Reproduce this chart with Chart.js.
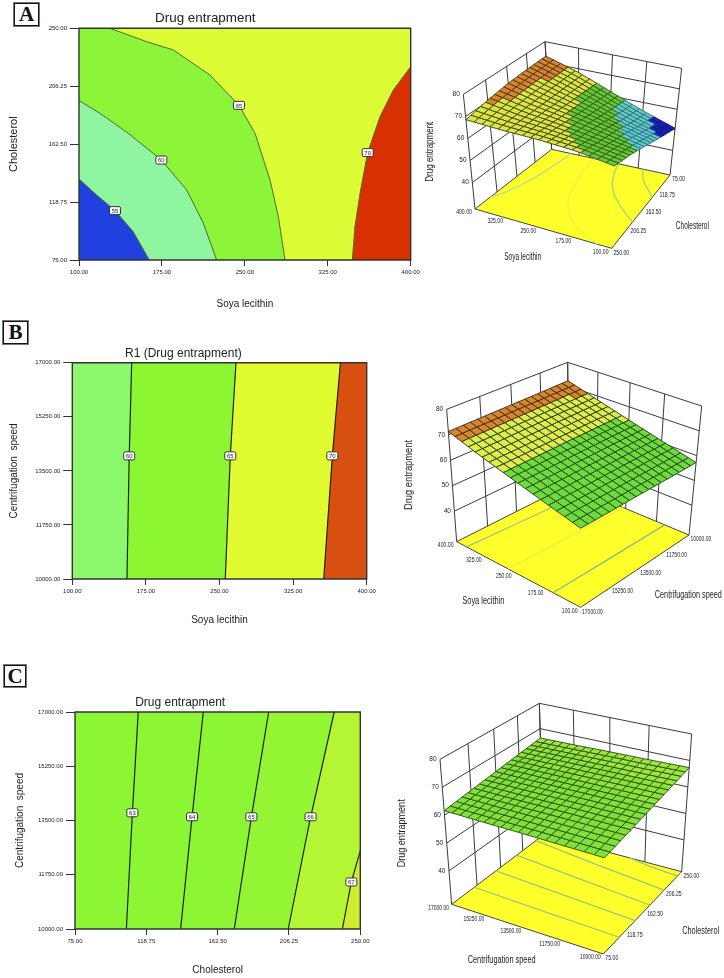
<!DOCTYPE html>
<html>
<head>
<meta charset="utf-8">
<script src="https://cdn.jsdelivr.net/npm/chart.js@4"></script>
<style>
html,body{margin:0;padding:0;background:#fff;width:724px;height:978px;overflow:hidden;position:relative}
canvas{position:absolute;display:block}
.tag{position:absolute;box-sizing:border-box;border:1.5px solid #111;outline:1px solid #777;background:#fff;font:bold 21px/1 "Liberation Serif",serif;color:#111;display:flex;align-items:center;justify-content:center}
</style>
</head>
<body>
<div class="tag" style="left:14px;top:3px;width:25px;height:23px">A</div>
<div class="tag" style="left:3px;top:321px;width:25px;height:23px">B</div>
<div class="tag" style="left:4px;top:665px;width:22px;height:22px">C</div>
<script>
// ---------- axis ticks ----------
const soyaTicks = [100, 175, 250, 325, 400];
const cholTicks = [75, 118.75, 162.5, 206.25, 250];
const speedTicks = [10000, 11750, 13500, 15250, 17000];
const responseTicks = [40, 50, 60, 70, 80];

// ---------- contour lines ----------
const contourA55 = [[100,136.2],[116,124],[132.6,112.3],[149,96.4],[163.6,75]];
const contourA60 = [[100,195.4],[119,185.8],[144.6,170.7],[174.5,150.5],[197.4,127.9],[212.5,102.7],[224.5,75]];
const contourA65 = [[128,250],[161.2,239.9],[185.3,233.6],[218.5,214.7],[244.7,191.8],[259.2,170.7],[272.8,135.4],[280.3,107.7],[286.3,75]];
const contourA70 = [[400,221],[384.3,203.4],[372.3,183.3],[361.1,156.1],[354.2,125.4],[349.6,100.2],[347.2,75]];
const labelsA = [[55,132.6,112.3],[60,174.5,150.5],[65,244.7,191.8],[70,361.1,156.1]];

const contourB60 = [[160.5,17000],[158,13985],[155.7,10000]];
const contourB65 = [[266.8,17000],[261,13985],[255.9,10000]];
const contourB70 = [[373.2,17000],[365,13985],[356.2,10000]];
const labelsB = [[60,158,13985],[65,261,13985],[70,365,13985]];

const contourC63 = [[113.8,17000],[110.2,13748],[106.5,10000]];
const contourC64 = [[153.7,17000],[146.8,13619],[139.8,10000]];
const contourC65 = [[193.8,17000],[183.2,13619],[172.7,10000]];
const contourC66 = [[234,17000],[220.8,13900],[219.5,13619],[205.8,10000]];
const contourC67 = [[250,12520],[244.5,11518],[239,10000]];
const labelsC = [[63,110.2,13748],[64,146.8,13619],[65,183.2,13619],[66,219.5,13619],[67,244.5,11518]];

// ---------- response surfaces at the labelled ticks ----------
// rows: first factor ticks; columns: second factor ticks
const surfaceA = [
  [50.8,53.8,57.2,60.6,63.0],
  [56.0,58.0,61.0,63.0,65.6],
  [62.0,63.2,64.3,65.6,66.8],
  [68.2,68.0,67.8,67.6,67.4],
  [73.0,72.7,72.0,70.6,68.5]];
const surfaceB = [
  [57.2,57.2,57.3,57.3,57.4],
  [60.9,60.9,60.8,60.7,60.7],
  [64.6,64.5,64.4,64.2,64.1],
  [68.4,68.2,68.0,67.7,67.5],
  [72.2,71.9,71.7,71.5,71.3]];
const surfaceC = [
  [62.1,62.0,61.9,61.7,61.6],
  [63.4,63.3,63.1,62.9,62.8],
  [64.7,64.5,64.3,64.1,64.0],
  [66.0,65.8,65.6,65.4,65.2],
  [67.3,67.0,66.8,66.5,66.3]];

// ---------- shared ----------
const FONT = '"Liberation Sans",Arial,sans-serif';
const pts = a => a.map(p => ({x:p[0], y:p[1]}));
function addCanvas(left, top, w, h){
  const c = document.createElement('canvas');
  c.width = w; c.height = h;
  c.style.left = left+'px'; c.style.top = top+'px';
  c.style.width = w+'px'; c.style.height = h+'px';
  document.body.appendChild(c);
  return c;
}

// ---------- 2D contour panels ----------
const contourLabelPlugin = {
  id:'contourLabels',
  afterDatasetsDraw(chart, args, opts){
    const ctx = chart.ctx, sx = chart.scales.x, sy = chart.scales.y;
    ctx.save();
    ctx.font = '6px '+FONT;
    ctx.textAlign = 'center'; ctx.textBaseline = 'middle';
    opts.items.forEach(it => {
      const x = sx.getPixelForValue(it[1]), y = sy.getPixelForValue(it[2]);
      ctx.fillStyle = '#fff'; ctx.strokeStyle = '#333'; ctx.lineWidth = 1;
      ctx.beginPath(); ctx.roundRect(x-5.5, y-4, 11, 8, 1.5); ctx.fill(); ctx.stroke();
      ctx.fillStyle = '#222';
      ctx.fillText(String(it[0]), x, y+.5);
    });
    ctx.restore();
  }
};
function contourPanel(c){
  const xh = 56;
  const top = c.top, H = Math.round(c.plot.b - top + xh), W = Math.round(c.titleX*2);
  const ds = [];
  const [x0,x1] = [c.xTicks[0], c.xTicks[4]], [y0,y1] = [c.yTicks[0], c.yTicks[4]];
  const push = d => { d.order = -ds.length; ds.push(Object.assign({showLine:true,pointRadius:0,borderWidth:0,clip:false,tension:0},d)); };
  c.layers.forEach(l => {
    const corners = l.corners.map(k => [k[0]?x1:x0, k[1]?y1:y0]);
    push({data:pts(l.line.concat(corners)), fill:'shape', backgroundColor:l.color, borderColor:l.color});
  });
  c.lines.forEach(l => push({data:pts(l), fill:false, borderColor:c.lineColor, borderWidth:c.lineWidth}));
  push({data:pts([[x0,y0],[x1,y0],[x1,y1],[x0,y1],[x0,y0]]), fill:false, borderColor:'#333', borderWidth:1.4});
  const titleH = c.titleSize*1.2, pt = c.titleY - top - titleH/2, pb = c.plot.t - top - titleH - pt;
  new Chart(addCanvas(0, top, W, H), {
    type:'scatter',
    data:{datasets:ds},
    plugins:[contourLabelPlugin],
    options:{
      animation:false, responsive:false,
      layout:{padding:{left:0,top:0,bottom:0,right:W - c.plot.r}},
      plugins:{
        legend:{display:false}, tooltip:{enabled:false},
        title:{display:true,text:c.title,color:'#222',font:{size:c.titleSize,family:FONT,weight:'normal',lineHeight:1.2},padding:{top:pt,bottom:pb}},
        contourLabels:{items:c.labels}
      },
      scales:{
        x:{type:'linear',min:x0,max:x1,
          afterBuildTicks(s){s.ticks=c.xTicks.map(v=>({value:v}));},
          afterFit(s){s.height=xh;},
          grid:{drawOnChartArea:false,drawTicks:true,tickLength:6,tickColor:'#333',lineWidth:1},
          border:{display:false},
          ticks:{autoSkip:false,maxRotation:0,padding:3,color:'#222',font:{size:6,family:FONT},callback:v=>v.toFixed(2)},
          title:{display:true,text:c.xTitle,color:'#222',font:{size:10,family:FONT,lineHeight:1.2},padding:{top:0,bottom:xh-(c.xTitleY-c.plot.b)-6}}
        },
        y:{type:'linear',min:y0,max:y1,
          afterBuildTicks(s){s.ticks=c.yTicks.map(v=>({value:v}));},
          afterFit(s){s.width=c.plot.l;},
          grid:{drawOnChartArea:false,drawTicks:true,tickLength:9,tickColor:'#333',lineWidth:1},
          border:{display:false},
          ticks:{autoSkip:false,padding:3,color:'#222',font:{size:6,family:FONT},callback:v=>v.toFixed(2)},
          title:{display:true,text:c.yTitle,color:'#222',font:{size:c.yTitleSize,family:FONT,lineHeight:1.2},padding:{top:c.yTitleX-c.yTitleSize*.6,bottom:0}}
        }
      }
    }
  });
}

contourPanel({
  title:'Drug entrapment', titleSize:13.4, titleX:250.7, titleY:18, top:0,
  plot:{l:79,r:410.7,t:28.3,b:260},
  xTicks:soyaTicks, yTicks:cholTicks, xTitle:'Soya lecithin', yTitle:'Cholesterol', yTitleSize:11, xTitleY:304, yTitleX:14,
  layers:[
    {line:[],corners:[[0,0],[1,0],[1,1],[0,1]],color:'#dcfc36'},
    {line:contourA65,corners:[[0,0],[0,1]],color:'#8cf53a'},
    {line:contourA60,corners:[[0,0]],color:'#90f5a0'},
    {line:contourA55,corners:[[0,0]],color:'#2040e0'},
    {line:contourA70,corners:[[1,0]],color:'#d83000'}
  ],
  lines:[contourA55,contourA60,contourA65,contourA70], lineColor:'#4e6a30', lineWidth:1, labels:labelsA
});
contourPanel({
  title:'R1 (Drug entrapment)', titleSize:12, titleX:215, titleY:353.3, top:330,
  plot:{l:72.3,r:366.7,t:362.7,b:579.3},
  xTicks:soyaTicks, yTicks:speedTicks, xTitle:'Soya lecithin', yTitle:'Centrifugation  speed', yTitleSize:10, xTitleY:620.7, yTitleX:14,
  layers:[
    {line:[],corners:[[0,0],[1,0],[1,1],[0,1]],color:'#d85010'},
    {line:contourB70,corners:[[0,0],[0,1]],color:'#e0fc30'},
    {line:contourB65,corners:[[0,0],[0,1]],color:'#8cf632'},
    {line:contourB60,corners:[[0,0],[0,1]],color:'#8cf86c'}
  ],
  lines:[contourB60,contourB65,contourB70], lineColor:'#222', lineWidth:1.2, labels:labelsB
});
contourPanel({
  title:'Drug entrapment', titleSize:12, titleX:223.3, titleY:703, top:680,
  plot:{l:75,r:360.3,t:712,b:928.7},
  xTicks:cholTicks, yTicks:speedTicks, xTitle:'Cholesterol', yTitle:'Centrifugation  speed', yTitleSize:10, xTitleY:970, yTitleX:20,
  layers:[
    {line:[],corners:[[0,0],[1,0],[1,1],[0,1]],color:'#8cf534'},
    {line:contourC65,corners:[[1,0],[1,1]],color:'#94f534'},
    {line:contourC66,corners:[[1,0],[1,1]],color:'#b4f534'},
    {line:contourC67,corners:[[1,0]],color:'#d0ec30'}
  ],
  lines:[contourC63,contourC64,contourC65,contourC66,contourC67], lineColor:'#222', lineWidth:1.2, labels:labelsC
});

// ---------- 3D surface panels ----------
function squareToQuad(q){
  const [[x0,y0],[x1,y1],[x2,y2],[x3,y3]] = q;
  const dx1=x1-x2,dx2=x3-x2,sx=x0-x1+x2-x3,dy1=y1-y2,dy2=y3-y2,sy=y0-y1+y2-y3;
  const den=dx1*dy2-dx2*dy1, g=(sx*dy2-dx2*sy)/den, h=(dx1*sy-sx*dy1)/den;
  const a=x1-x0+g*x1,b=x3-x0+h*x3,d=y1-y0+g*y1,e=y3-y0+h*y3;
  return (u,v)=>{const w=g*u+h*v+1;return [(a*u+b*v+x0)/w,(d*u+e*v+y0)/w];};
}
function surfacePanel(c){
  const sc = q => q.map(p=>[p[0]/3,p[1]/3]);
  const F = squareToQuad(sc(c.floor)), T = squareToQuad(sc(c.ceil));
  const zFloor = 28, zTop = 80;
  const nx = v => (v-c.xTicks[0])/(c.xTicks[4]-c.xTicks[0]);
  const ny = v => (v-c.yTicks[0])/(c.yTicks[4]-c.yTicks[0]);
  const proj = (u,v,z) => {
    const f=F(u,v), t=T(u,v), w=(z-zFloor)/(zTop-zFloor);
    return {x:f[0]+(t[0]-f[0])*w, y:f[1]+(t[1]-f[1])*w};
  };
  const zAt = (u,v) => {
    const i=Math.min(3,Math.floor(u*4)), j=Math.min(3,Math.floor(v*4)), a=u*4-i, b=v*4-j, m=c.surface;
    return m[i][j]*(1-a)*(1-b)+m[i+1][j]*a*(1-b)+m[i][j+1]*(1-a)*b+m[i+1][j+1]*a*b;
  };
  const ds=[];
  const push = d => { d.order=-ds.length; ds.push(Object.assign({showLine:true,pointRadius:0,borderWidth:0,clip:false,tension:0,fill:false},d)); };
  const line = (p,col,w) => push({data:p,borderColor:col,borderWidth:w});
  const wall = '#3a3a3a';
  const [bu,bv] = c.back;
  c.xTicks.forEach(t=>{const u=nx(t); line([proj(u,bv,zFloor),proj(u,bv,zTop)],wall,1);});
  c.yTicks.forEach(t=>{const v=ny(t); line([proj(bu,v,zFloor),proj(bu,v,zTop)],wall,1);});
  responseTicks.forEach(z=>{
    line([proj(0,bv,z),proj(1,bv,z)],wall,1);
    line([proj(bu,0,z),proj(bu,1,z)],wall,1);
  });
  const fl=[proj(0,0,zFloor),proj(1,0,zFloor),proj(1,1,zFloor),proj(0,1,zFloor),proj(0,0,zFloor)];
  push({data:fl,fill:'shape',backgroundColor:'#ffff2c',borderColor:'#444',borderWidth:1});
  c.contours.forEach((l,i)=>line(l.map(p=>proj(nx(p[0]),ny(p[1]),zFloor)),c.floorLine[i],1.3));
  const leftIsX = c.leftAxis==='x';
  const leftVals = leftIsX?c.xTicks:c.yTicks, rightVals = leftIsX?c.yTicks:c.xTicks;
  const leftAt = t => leftIsX?[nx(t),c.leftFix]:[c.leftFix,ny(t)];
  const rightAt = t => leftIsX?[c.rightFix,ny(t)]:[nx(t),c.rightFix];
  const N=18;
  for(let i=0;i<N;i++)for(let j=0;j<N;j++){
    const q=[[i,j],[i+1,j],[i+1,j+1],[i,j+1],[i,j]].map(a=>proj(a[0]/N,a[1]/N,zAt(a[0]/N,a[1]/N)));
    const zc=zAt((i+.5)/N,(j+.5)/N);
    const b=c.bands.find(x=>zc<x[0]);
    push({data:q,fill:'shape',backgroundColor:b[1],borderColor:b[2],borderWidth:.9});
  }
  const textPlugin={id:'text3d',afterDatasetsDraw(chart){
    const ctx=chart.ctx,sx=chart.scales.x,sy=chart.scales.y;
    ctx.save();
    ctx.fillStyle='#222';ctx.textBaseline='middle';
    const put=(s,p,dx,dy,al,mw)=>{ctx.textAlign=al;ctx.fillText(s,sx.getPixelForValue(p.x)+dx,sy.getPixelForValue(p.y)+dy,mw);};
    ctx.font='6.5px '+FONT;
    leftVals.forEach(t=>{const a=leftAt(t),s=t.toFixed(2);put(s,proj(a[0],a[1],zFloor),-(5+s.length),3.6,'center',s.length*2.6);});
    rightVals.forEach(t=>{const a=rightAt(t),s=t.toFixed(2);put(s,proj(a[0],a[1],zFloor),3+s.length*1.1,4.4,'center',s.length*2.6);});
    responseTicks.forEach(z=>put(String(z),proj(c.zAxis[0],c.zAxis[1],z),-3.5,0,'right',8));
    ctx.font='10px '+FONT;ctx.textAlign='center';
    c.titles.forEach(t=>{
      ctx.save();ctx.translate(t[1]/3,t[2]/3);
      if(t[4])ctx.rotate(-Math.PI/2);
      ctx.fillText(t[0],0,0,t[3]);ctx.restore();
    });
    ctx.restore();
  }};
  new Chart(addCanvas(c.left,c.top,c.w,c.h),{
    type:'scatter',
    data:{datasets:ds},
    plugins:[textPlugin],
    options:{
      animation:false,responsive:false,
      layout:{padding:0},
      plugins:{legend:{display:false},tooltip:{enabled:false},title:{display:false}},
      scales:{
        x:{type:'linear',display:false,min:0,max:c.w},
        y:{type:'linear',display:false,min:0,max:c.h,reverse:true}
      }
    }
  });
}

surfacePanel({
  left:420,top:0,w:304,h:300,
  xTicks:soyaTicks,yTicks:cholTicks,surface:surfaceA,
  floor:[[750,525],[395,448],[165,627],[575,745]],
  ceil:[[785,205],[375,125],[130,283],[587,378]],
  back:[1,0],zAxis:[1,1],leftAxis:'x',leftFix:1,rightFix:0,
  contours:[contourA55,contourA60,contourA65,contourA70],floorLine:['#a4d27a','#a4d27a','#eef040','#bcd890'],
  bands:[[55,'#1420c0','#101870'],[60,'#62d496','#2a62c8'],[65,'#66c834','#2f5a1c'],[70,'#dce63e','#3a4018'],[Infinity,'#d8862c','#4a3010']],
  titles:[['Soya lecithin',308,772,37],['Cholesterol',817,680,33],['Drug entrapment',30,455,60,true]]
});
surfacePanel({
  left:390,top:320,w:334,h:310,
  xTicks:soyaTicks,yTicks:speedTicks,surface:surfaceB,
  floor:[[897,645],[537,495],[200,665],[572,862]],
  ceil:[[935,258],[533,127],[170,268],[572,442]],
  back:[1,0],zAxis:[1,1],leftAxis:'x',leftFix:1,rightFix:0,
  contours:[contourB60,contourB65,contourB70],floorLine:['#8cb888','#e8f040','#a8c080'],
  bands:[[65,'#6cdc3a','#26401a'],[70,'#dcee48','#2a3018'],[Infinity,'#d8862c','#3a2a10']],
  titles:[['Soya lecithin',280,843,42],['Centrifugation speed',895,826,67],['Drug entrapment',58,465,70,true]]
});
surfacePanel({
  left:390,top:670,w:334,h:308,
  xTicks:cholTicks,yTicks:speedTicks,surface:surfaceC,
  floor:[[640,852],[875,605],[460,495],[185,703]],
  ceil:[[645,412],[905,192],[448,100],[150,268]],
  back:[1,1],zAxis:[0,1],leftAxis:'y',leftFix:0,rightFix:0,
  contours:[contourC63,contourC64,contourC65,contourC66,contourC67],floorLine:['#98c878','#98c878','#98c878','#98c878','#98c878'],
  bands:[[65,'#80e234','#2a4a1a'],[66,'#8ce434','#2a4a1a'],[Infinity,'#9ae838','#2a4a1a']],
  titles:[['Centrifugation speed',335,872,68],['Cholesterol',932,783,37],['Drug entrapment',38,490,68,true]]
});
</script>
</body>
</html>
